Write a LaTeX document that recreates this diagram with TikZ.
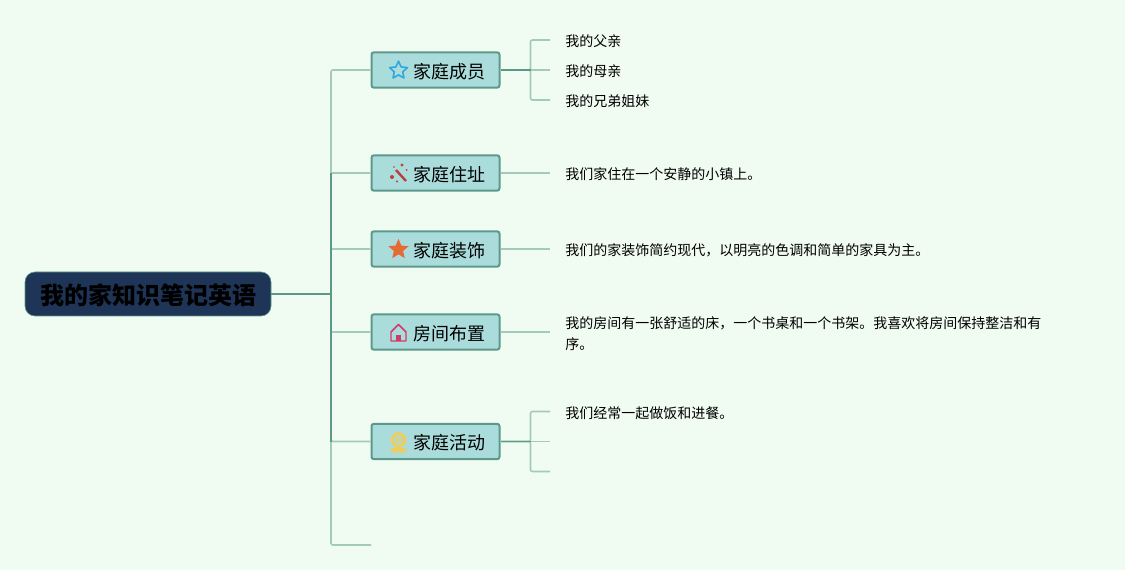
\documentclass[tikz,border=0pt]{standalone}
\usepackage{fontspec}
\setmainfont{Noto Sans CJK SC}
\usepackage{tikz}
\usetikzlibrary{positioning,calc,shapes.geometric}
\usepackage{xcolor}
\definecolor{pagebg}{HTML}{F0FBF2}
\definecolor{rootfill}{HTML}{1E3557}
\definecolor{branchfill}{HTML}{ABDCDC}
\definecolor{edgedark}{HTML}{5C998C}
\definecolor{edgelight}{HTML}{A3CBB8}
\definecolor{iconblue}{HTML}{2FA8DF}
\definecolor{iconred}{HTML}{B8403A}
\definecolor{iconorange}{HTML}{E56B35}
\definecolor{iconpink}{HTML}{D23A68}
\definecolor{icongold}{HTML}{EBCD60}
\tikzset{
  rootnode/.style={fill=rootfill,draw=edgedark,line width=0.4pt,rounded corners=7.5pt,minimum width=184.5pt,minimum height=33pt,inner sep=0pt,font=\fontsize{18}{22}\selectfont\bfseries,text height=17.5pt,text depth=2pt},
  branchnode/.style={fill=branchfill,draw=edgedark,line width=1.5pt,rounded corners=1.8pt,minimum width=96pt,minimum height=26.5pt,inner sep=0pt,font=\fontsize{13.5}{16}\selectfont,text height=14pt,text depth=1.5pt},
  leafnode/.style={anchor=west,inner xsep=11.25pt,inner ysep=0pt,font=\fontsize{10.5}{15.75}\selectfont,align=left,text height=11.5pt,text depth=1.5pt},
  trunk/.style={draw=edgedark,line width=1.2pt},
  twig/.style={draw=edgelight,line width=1.2pt,rounded corners=1.5pt},
}
\begin{document}
\begin{tikzpicture}[x=0.75pt,y=-0.75pt]
\useasboundingbox[fill=pagebg] (0,0) rectangle (1125,570);
% main topic and the five branches
\node[rootnode] (root) at (148,294) {\hspace{1.5pt}我的家知识笔记英语};
\node[branchnode] (member) at (435.5,70) {\hspace{21pt}家庭成员};
\node[branchnode] (address) at (435.5,173) {\hspace{21pt}家庭住址};
\node[branchnode] (decor) at (435.5,249) {\hspace{21pt}家庭装饰};
\node[branchnode] (room) at (435.5,332) {\hspace{21pt}房间布置};
\node[branchnode] (activity) at (435.5,441.5) {\hspace{21pt}家庭活动};
\coordinate (spare) at (371,545);
\coordinate (fork) at (331,294);
% leaves
\node[leafnode] (father) at (550,40) {我的父亲};
\node[leafnode] (mother) at (550,70) {我的母亲};
\node[leafnode] (sibling) at (550,100) {我的兄弟姐妹};
\node[leafnode] (town) at (550,173) {我们家住在一个安静的小镇上。};
\node[leafnode] (style) at (550,249) {我们的家装饰简约现代，以明亮的色调和简单的家具为主。};
\node[leafnode,text height=27.5pt] (bedroom) at (550,332) {我的房间有一张舒适的床，一个书桌和一个书架。我喜欢将房间保持整洁和有\\序。};
\node[leafnode] (cook) at (550,411.5) {我们经常一起做饭和进餐。};
\coordinate (blanka) at (550,441.5);
\coordinate (blankb) at (550,471.5);
% connectors
\draw[twig] (fork) |- (member.west);
\draw[twig] (fork) |- (address.west);
\draw[twig] (fork) |- (decor.west);
\draw[twig] (fork) |- (room.west);
\draw[twig] (fork) |- (activity.west);
\draw[twig] (fork) |- (spare);
\draw[trunk] (root.east) -- (fork);
\draw[trunk] (331,173) -- (331,442);
\draw[twig] (member.east) -- ++(30,0) |- (father.west);
\draw[twig] (member.east) -- ++(30,0) |- (sibling.west);
\draw[twig] (member.east) -- (mother.west);
\draw[trunk] (member.east) -- ++(30,0);
\draw[twig] (address.east) -- (town.west);
\draw[twig] (decor.east) -- (style.west);
\draw[twig] (room.east) -- (bedroom.west);
\draw[twig] (activity.east) -- ++(30,0) |- (cook.west);
\draw[twig] (activity.east) -- ++(30,0) |- (blankb);
\draw[twig] (activity.east) -- (blanka);
\draw[trunk] (activity.east) -- ++(30,0);
% icons
\node[star,star points=5,star point ratio=2.1,draw=iconblue,line width=1.2pt,line join=round,minimum size=14pt,inner sep=0pt] (staricon) at (398.5,70.5) {};
\draw[iconred,line width=1.8pt] (396,170) -- (406,181);
\fill[iconred] (392,177) circle (2) (397,181.5) circle (1.2) (402,165) circle (1.6) (406.5,170) circle (1) (394,167) circle (0.8);
\node[star,star points=5,star point ratio=2.2,fill=iconorange,line join=round,minimum size=16pt,inner sep=0pt] (fullstar) at (398.5,249.5) {};
\draw[iconpink,line width=1.1pt,line join=round] (391,341) -- (391,332) -- (398.5,324.5) -- (406,332) -- (406,341) -- cycle;
\fill[iconpink] (396,341) rectangle (401,335);
\fill[icongold] (392,448) -- (389.5,452) -- (394,451.5) -- (397,454) -- (398.5,450) -- (400,454) -- (403,451.5) -- (407.5,452) -- (405,448) -- cycle;
\draw[icongold,line width=2.4pt] (398.5,440) circle (6.2);
\draw[icongold,line width=1pt] (398.5,440) circle (2.4);
\end{tikzpicture}
\end{document}
